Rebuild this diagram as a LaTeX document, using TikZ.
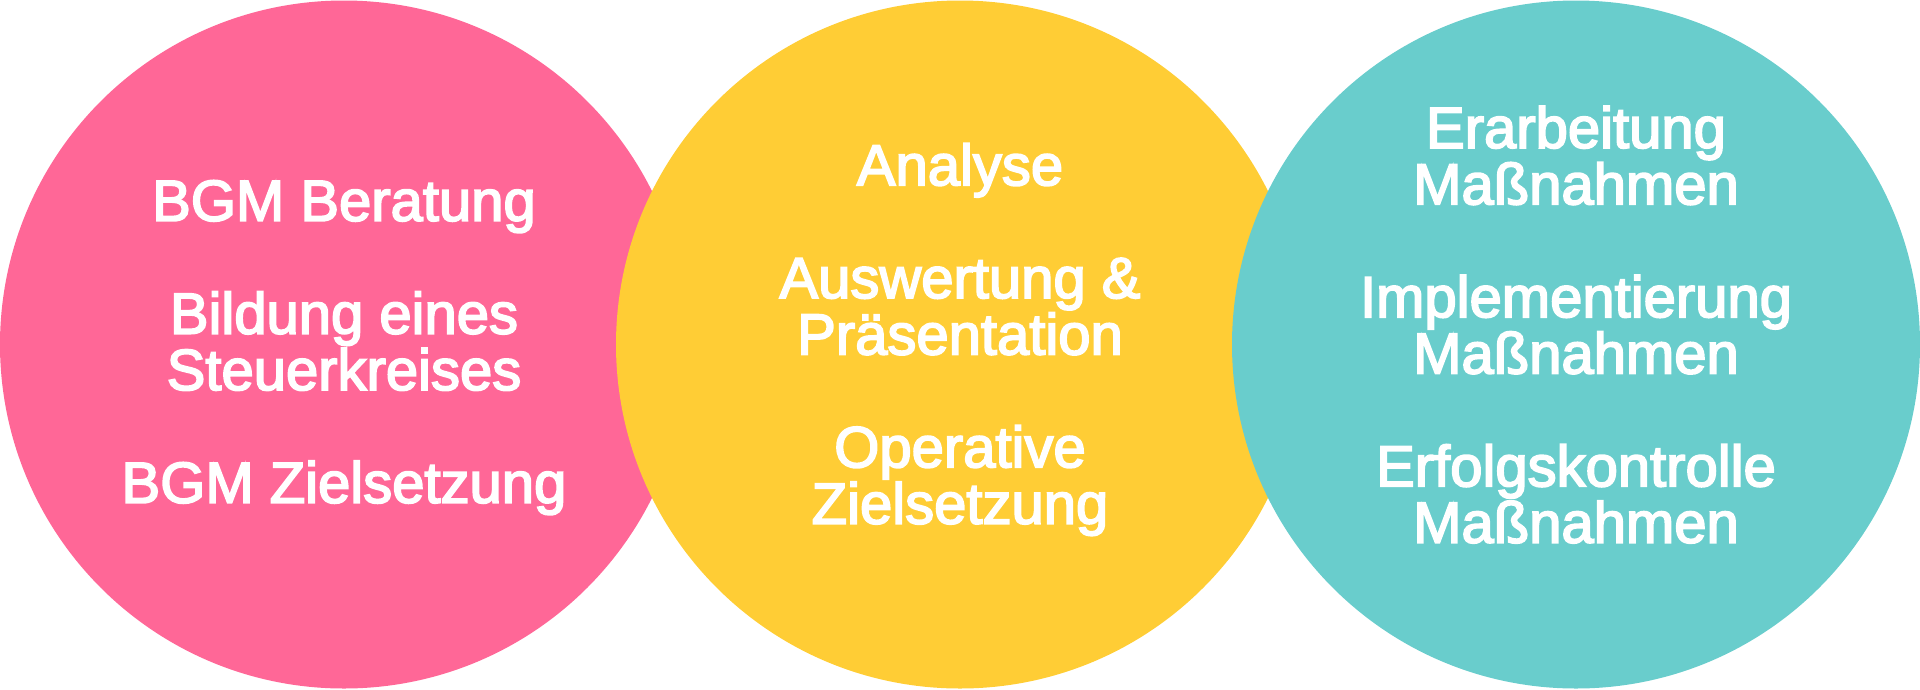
\documentclass[tikz,border=0pt]{standalone}
\usepackage{fontspec}
\setmainfont{Liberation Sans}
\newfontfamily\lblfont{Liberation Sans}[FakeBold=3]
\definecolor{cpink}{RGB}{255,103,151}
\definecolor{cyellow}{RGB}{255,205,53}
\definecolor{cteal}{RGB}{105,205,204}
\tikzset{
  disc/.style={circle, inner sep=0pt, minimum size=688pt, draw=none},
  label/.style={text=white, align=center, inner sep=0pt,
    font=\lblfont\fontsize{58pt}{56.4pt}\selectfont}
}
\begin{document}
\begin{tikzpicture}[x=1pt,y=-1pt]
\useasboundingbox (0,0) rectangle (1920,689);
\node[disc, fill=cpink] (c1) at (344,344.5) {};
\node[disc, fill=cyellow] (c2) at (960,344.5) {};
\node[disc, fill=cteal] (c3) at (1576,344.5) {};
\node[label] (t1) at (344,347.6) {BGM Beratung\\[56.4pt]Bildung eines\\Steuerkreises\\[56.4pt]BGM Zielsetzung};
\node[label] (t2) at (960,339.5) {Analyse\\[56.4pt]Auswertung \&\\Präsentation\\[56.4pt]Operative\\Zielsetzung};
\node[label] (t3) at (1576,324.6) {Erarbeitung\\Maßnahmen\\[56.4pt]Implementierung\\Maßnahmen\\[56.4pt]Erfolgskontrolle\\Maßnahmen};
\end{tikzpicture}
\end{document}
